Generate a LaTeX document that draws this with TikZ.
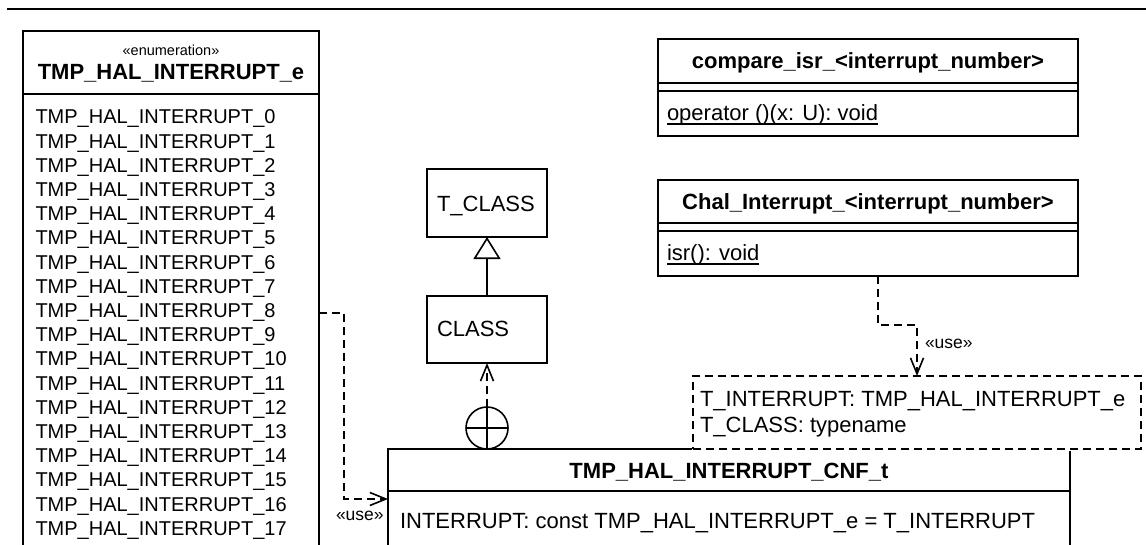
\documentclass[tikz,border=0pt]{standalone}
\usepackage{fontspec}
\setmainfont{Liberation Sans}
\usetikzlibrary{arrows.meta}
% underline drawn as a rule just below the baseline
\newcommand\ulbox[1]{\setbox0\hbox{#1}\rlap{\rule[-4.6pt]{\wd0}{1.2pt}}\box0}
\tikzset{
  box/.style={draw, line width=1.6pt, inner sep=0pt, outer sep=0pt},
  sep/.style={line width=1.6pt},
  txt/.style={inner sep=0pt, outer sep=0pt, anchor=base west, font=\fontsize{22}{26}\selectfont},
  title/.style={inner sep=0pt, outer sep=0pt, anchor=base, font=\bfseries\fontsize{22}{26}\selectfont},
  lit/.style={txt, font=\fontsize{20}{24}\selectfont},
  stereo/.style={inner sep=0pt, outer sep=0pt, anchor=base, font=\fontsize{14.5}{17}\selectfont},
  uselbl/.style={txt, font=\fontsize{17.5}{20}\selectfont},
  dep/.style={line width=1.6pt, dash pattern=on 8pt off 5pt, -{Straight Barb[length=16pt,width=13pt]}},
  gen/.style={line width=1.6pt, -{Triangle[open,length=22pt,width=27pt]}},
  tplbox/.style={box, dash pattern=on 8pt off 5pt, fill=white,
    preaction={draw=white, solid, line width=3pt}},
}
\begin{document}
\begin{tikzpicture}[x=1pt,y=-1pt]
\useasboundingbox (0,0) rectangle (1146,544);
\clip (0,0) rectangle (1146,544);

% header rule
\draw[line width=1.6pt] (7,9) -- (1146,9);

% enumeration
\node[box, minimum width=296pt, minimum height=529pt] (enum) at (171,295.5) {};
\draw[sep] (enum.west |- 0,94) -- (enum.east |- 0,94);
\node[stereo] (enumst) at (171,55) {«enumeration»};
\node[title] (enumname) at (171,79) {TMP\_HAL\_INTERRUPT\_e};
\foreach \i in {0,...,17}
  \node[lit] (lit\i) at (35.5,123.8+24.2*\i) {TMP\_HAL\_INTERRUPT\_\i};

% template parameter classes
\node[box, minimum width=120pt, minimum height=68pt] (tclass) at (487,203) {};
\node[txt] (tclassname) at (437,211) {T\_CLASS};
\node[box, minimum width=120pt, minimum height=67pt] (class) at (487,329.5) {};
\node[txt] (classname) at (437,336.5) {CLASS};

% compare_isr
\node[box, minimum width=420pt, minimum height=97pt] (cmp) at (868,87.5) {};
\draw[sep] (cmp.west |- 0,83) -- (cmp.east |- 0,83);
\draw[sep] (cmp.west |- 0,91) -- (cmp.east |- 0,91);
\node[title] (cmpname) at (868,68) {compare\_isr\_<interrupt\_number>};
\node[txt] (cmpop) at (667,120) {\ulbox{operator ()(x: U): void}};

% Chal_Interrupt
\node[box, minimum width=420pt, minimum height=96pt] (chal) at (868,228) {};
\draw[sep] (chal.west |- 0,223) -- (chal.east |- 0,223);
\draw[sep] (chal.west |- 0,231) -- (chal.east |- 0,231);
\node[title] (chalname) at (868,209) {Chal\_Interrupt\_<interrupt\_number>};
\node[txt] (chalop) at (667,260) {\ulbox{isr(): void}};

% configuration class
\node[box, minimum width=682pt, minimum height=111pt] (cnf) at (729,504.5) {};
\draw[sep] (cnf.west |- 0,491) -- (cnf.east |- 0,491);
\node[title] (cnfname) at (729,478) {TMP\_HAL\_INTERRUPT\_CNF\_t};
\node[txt] (cnfattr) at (400,528) {INTERRUPT: const TMP\_HAL\_INTERRUPT\_e = T\_INTERRUPT};

% template parameters
\node[tplbox, minimum width=448pt, minimum height=73pt] (tpl) at (917,412.5) {};
\node[txt] (tpl1) at (700,406.5) {T\_INTERRUPT: TMP\_HAL\_INTERRUPT\_e};
\node[txt] (tpl2) at (700,432.5) {T\_CLASS: typename};

% nesting symbol
\node[draw, circle, line width=1.6pt, minimum size=42pt, inner sep=0pt, outer sep=0pt] (nest) at (487,428) {};
\draw[sep] (nest.west) -- (nest.east);
\draw[sep] (nest.north) -- (nest.south);

% connectors
\draw[gen] (class.north) -- (tclass.south);
\draw[dep] (nest.north) -- (class.south);

\coordinate (enumout) at (319,313);
\coordinate (cnfin) at (388,499);
\draw[dep] (enumout) -- ++(25,0) |- (cnfin);
\node[uselbl] (use1) at (336,520) {«use»};

\coordinate (chalout) at (878,276);
\draw[dep] (chalout) -- ++(0,49) -| (tpl.north);
\node[uselbl] (use2) at (925,348) {«use»};
\end{tikzpicture}
\end{document}
